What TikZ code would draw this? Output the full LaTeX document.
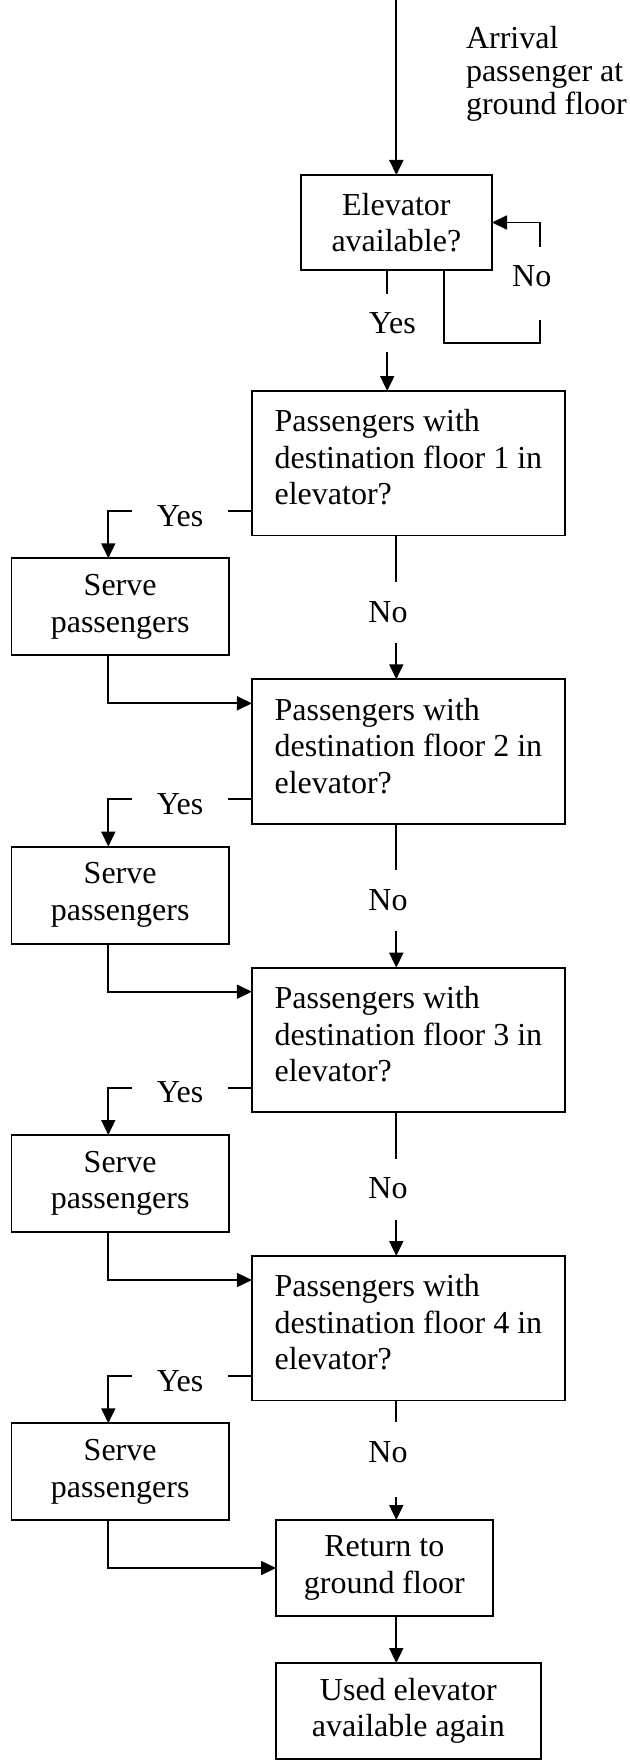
\documentclass[tikz,border=0pt]{standalone}
\usepackage{fontspec}
\setmainfont{Liberation Serif}
\usetikzlibrary{arrows.meta}
\begin{document}
\begin{tikzpicture}[x=1pt,y=-1pt,
  line width=1.8pt,
  every node/.style={font=\fontsize{32}{36.5}\selectfont, inner sep=0pt, outer sep=0pt},
  arr/.style={-{Triangle[length=15pt,width=14pt]}},
  procbox/.style={draw, rectangle, align=center},
  decision/.style={draw, rectangle, align=left,
    minimum width=312.9pt, minimum height=144.5pt, text depth=12pt},
  flowlbl/.style={text height=22pt, text depth=0pt, inner ysep=18pt},
  yeslbl/.style={text height=30pt, text depth=0pt, inner xsep=24.4pt},
]
\path[fill=white] (0,0) rectangle (629,1760);
\useasboundingbox (0,0) rectangle (629,1760);

% column guides for the vertical connectors
\coordinate (start) at (396.35,0);
\coordinate (colA) at (396.3,0);
\coordinate (colB) at (387.2,0);
\coordinate (colD) at (444.3,0);
\coordinate (colY) at (108.3,0);
\coordinate (loopc) at (540,343);

% arrival note
\node[anchor=north west, align=left, font=\fontsize{32}{33}\selectfont] (arrival) at (466,26.6)
  {Arrival\\passenger at\\ground floor};

% boxes
\node[procbox, minimum width=191.3pt, minimum height=95pt] (e1) at (396.35,222.5) {Elevator\\available?};

\node[decision] (d1) at (408.35,463.25) {Passengers with\\destination floor 1 in\\elevator?};
\node[decision] (d2) at (408.35,751.55) {Passengers with\\destination floor 2 in\\elevator?};
\node[decision] (d3) at (408.35,1039.95) {Passengers with\\destination floor 3 in\\elevator?};
\node[decision] (d4) at (408.35,1328.25) {Passengers with\\destination floor 4 in\\elevator?};

\node[procbox, minimum width=217.3pt, minimum height=97pt] (s1) at (120.15,606.8) {Serve\\passengers};
\node[procbox, minimum width=217.3pt, minimum height=97pt] (s2) at (120.15,895.1) {Serve\\passengers};
\node[procbox, minimum width=217.3pt, minimum height=97pt] (s3) at (120.15,1183.5) {Serve\\passengers};
\node[procbox, minimum width=217.3pt, minimum height=97pt] (s4) at (120.15,1471.8) {Serve\\passengers};

\node[procbox, minimum width=216.6pt, minimum height=96pt] (r) at (384.3,1568) {Return to\\ground floor};
\node[procbox, minimum width=264.7pt, minimum height=95.8pt] (u) at (408.35,1710.9) {Used elevator\\available again};

% branch labels
\node[flowlbl, text depth=15pt, anchor=base] (no0) at (531.7,287) {No};
\node[flowlbl, anchor=base] (yes0) at (392.5,334) {Yes};

\node[yeslbl, anchor=base] (y1) at (180.1,526) {Yes};
\node[yeslbl, anchor=base] (y2) at (180.1,814.3) {Yes};
\node[yeslbl, anchor=base] (y3) at (180.1,1102.7) {Yes};
\node[yeslbl, anchor=base] (y4) at (180.1,1391) {Yes};

\node[flowlbl, text depth=3pt, anchor=base] (n1) at (388,622) {No};
\node[flowlbl, text depth=3pt, anchor=base] (n2) at (388,910.3) {No};
\node[flowlbl, text depth=3pt, anchor=base] (n3) at (388,1198.7) {No};
\node[flowlbl, text depth=17pt, anchor=base] (n4) at (388,1462) {No};

% entry and availability loop
\draw[arr] (start) -- (e1.north);
\draw (e1.south -| colD) |- (loopc) -- (no0.south -| loopc);
\draw[arr] (no0.north -| loopc) |- (e1.east);
\draw (e1.south -| colB) -- (yes0.north -| colB);
\draw[arr] (yes0.south -| colB) -- (d1.north -| colB);

% floor checks
\draw (d1.west |- y1.east) -- (y1.east);
\draw[arr] (y1.west) -| (s1.north -| colY);
\draw (d1.south -| colA) -- (n1.north -| colA);
\draw[arr] (n1.south -| colA) -- (d2.north -| colA);
\draw[arr] (s1.south -| colY) |- ([yshift=-24pt]d2.north west);

\draw (d2.west |- y2.east) -- (y2.east);
\draw[arr] (y2.west) -| (s2.north -| colY);
\draw (d2.south -| colA) -- (n2.north -| colA);
\draw[arr] (n2.south -| colA) -- (d3.north -| colA);
\draw[arr] (s2.south -| colY) |- ([yshift=-24pt]d3.north west);

\draw (d3.west |- y3.east) -- (y3.east);
\draw[arr] (y3.west) -| (s3.north -| colY);
\draw (d3.south -| colA) -- (n3.north -| colA);
\draw[arr] (n3.south -| colA) -- (d4.north -| colA);
\draw[arr] (s3.south -| colY) |- ([yshift=-24pt]d4.north west);

\draw (d4.west |- y4.east) -- (y4.east);
\draw[arr] (y4.west) -| (s4.north -| colY);
\draw (d4.south -| colA) -- (n4.north -| colA);
\draw[arr] (n4.south -| colA) -- (r.north -| colA);
\draw[arr] (s4.south -| colY) |- (r.west);

% final step
\draw[arr] (r.south -| colA) -- (u.north -| colA);
\end{tikzpicture}
\end{document}
